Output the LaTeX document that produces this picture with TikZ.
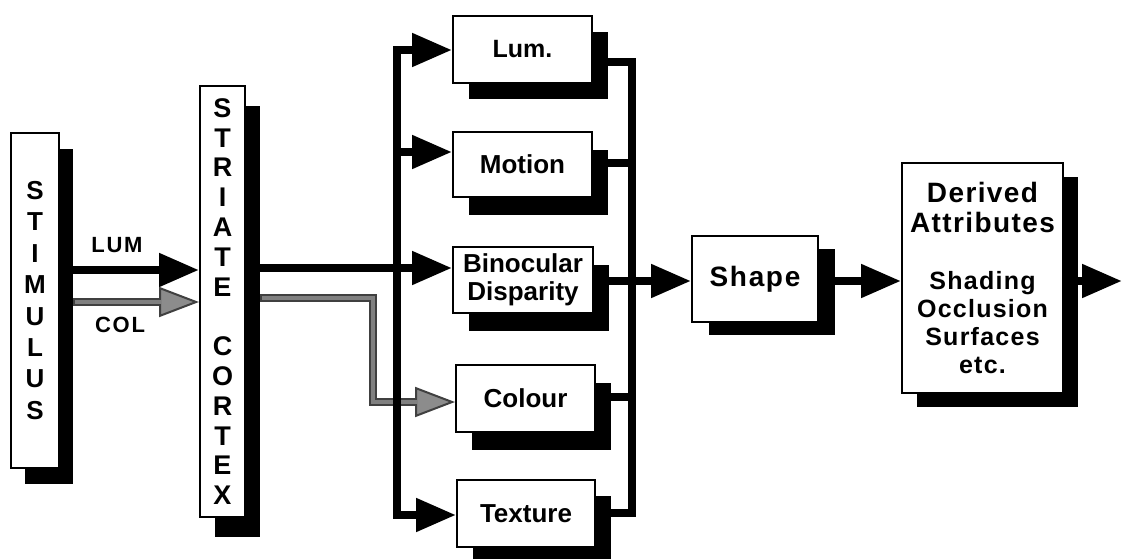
\documentclass[tikz,border=0pt]{standalone}
\usepackage{fontspec}
\setmainfont{Liberation Sans}
\usetikzlibrary{arrows.meta,shadows,calc}
\tikzset{
  box/.style={draw=black, line width=2pt, fill=white, inner sep=0pt, align=center,
    font=\bfseries\fontsize{26}{30}\selectfont},
  sh/.style 2 args={drop shadow={shadow xshift=#1, shadow yshift=#2, fill=black, opacity=1}},
  conn/.style={line width=8pt, line join=miter, draw=black},
  tip/.style={-{Triangle[length=40pt,width=32pt]}},
  gconn/.style={line width=8pt, line join=miter, draw=black!75},
  gin/.style={line width=4.5pt, line join=miter, draw=black!50},
  gtip/.style={-{Triangle[length=40pt,width=30pt,fill=black!45,line width=2pt]}},
  lbl/.style={inner sep=0pt, font=\bfseries\fontsize{22}{26}\selectfont\addfontfeature{LetterSpace=8}},
}
\begin{document}
\begin{tikzpicture}[x=1pt,y=-1pt]
\useasboundingbox (0,0) rectangle (1122,559);
% boxes
\node[box, sh={14pt}{-16pt}, minimum width=48pt, minimum height=335pt,
  font=\bfseries\fontsize{26}{31.4}\selectfont] (stim) at (35,300.5)
  {S\\T\\I\\M\\U\\L\\U\\S};
\node[box, sh={15pt}{-20pt}, minimum width=45pt, minimum height=431pt,
  font=\bfseries\fontsize{27}{29.8}\selectfont] (cortex) at (222.5,301.5)
  {S\\T\\R\\I\\A\\T\\E\\[29.8pt]C\\O\\R\\T\\E\\X};
\node[box, sh={16pt}{-16pt}, minimum width=139pt, minimum height=67pt,
  font=\bfseries\fontsize{25}{30}\selectfont] (lum) at (522.5,49.5) {Lum.};
\node[box, sh={16pt}{-18pt}, minimum width=139pt, minimum height=65pt] (motion) at (522.5,164.5) {Motion};
\node[box, sh={16pt}{-18pt}, minimum width=140pt, minimum height=66pt,
  font=\bfseries\fontsize{26}{28}\selectfont] (bin) at (523,280) {Binocular\\Disparity};
\node[box, sh={16pt}{-18pt}, minimum width=139pt, minimum height=67pt] (colour) at (525.5,398.5) {Colour};
\node[box, sh={16pt}{-16pt}, minimum width=138pt, minimum height=67pt] (tex) at (526,513.5) {Texture};
\node[box, sh={17pt}{-13pt}, minimum width=126pt, minimum height=86pt,
  font=\bfseries\fontsize{28}{30}\selectfont\addfontfeature{LetterSpace=6}] (shape) at (755,279) {Shape};
\node[box, sh={15pt}{-14pt}, minimum width=161pt, minimum height=230pt,
  font=\bfseries\fontsize{25}{28}\selectfont\addfontfeature{LetterSpace=5}] (derived) at (982.5,278)
  {{\fontsize{28}{28}\selectfont Derived}\\[2pt]{\fontsize{28}{28}\selectfont Attributes}\\[29pt]Shading\\Occlusion\\Surfaces\\etc.};
% labels
\node[lbl] (lumlbl) at (117,245) {LUM};
\node[lbl] (collbl) at (120,325) {COL};
% coordinates
\coordinate (yLum) at (0,270);
\coordinate (yCol) at (0,302);
\coordinate (gs) at (73,302);
\coordinate (yBinIn) at (0,268);
\coordinate (g0) at (260,298);
\coordinate (g1) at (373,298);
\coordinate (g2) at (373,402);
\coordinate (yL1) at (0,50);
\coordinate (yL2) at (0,152);
\coordinate (busLb) at (397,515);
\coordinate (yR1) at (0,62);
\coordinate (yR2) at (0,163);
\coordinate (yR4) at (0,397);
\coordinate (busRb) at (632,513);
\coordinate (yMain) at (0,281);
\coordinate (outEnd) at (1122,281);
% stimulus -> cortex
\draw[conn, tip] (stim.east |- yLum) -- (cortex.west |- yLum);
\draw[gconn, gtip] (gs) -- (cortex.west |- yCol);
\draw[gin, shorten >=38pt, shorten <=2pt] (gs) -- (cortex.west |- yCol);
% cortex -> colour (grey)
\draw[gconn, gtip] (g0) -- (g1) -- (g2) -- (colour.west |- g2);
\draw[gin, shorten >=38pt, shorten <=2pt] (g0) -- (g1) -- (g2) -- (colour.west |- g2);
% left bus
\draw[conn, {Triangle[length=40pt,width=32pt]}-{Triangle[length=40pt,width=32pt]}]
  (lum.west |- yL1) -| (busLb) -- (tex.west |- busLb);
\draw[conn, tip] (busLb |- yL2) -- (motion.west |- yL2);
% cortex -> binocular
\draw[conn, tip] (cortex.east |- yBinIn) -- (bin.west |- yBinIn);
% right bus
\draw[conn] (lum.east |- yR1) -| (busRb) -- (tex.east |- busRb);
\draw[conn] (motion.east |- yR2) -- (busRb |- yR2);
\draw[conn] (colour.east |- yR4) -- (busRb |- yR4);
% main chain
\draw[conn, tip] (bin.east |- yMain) -- (shape.west |- yMain);
\draw[conn, tip] (shape.east |- yMain) -- (derived.west |- yMain);
\draw[conn, tip] (derived.east |- yMain) -- (outEnd);
\end{tikzpicture}
\end{document}
